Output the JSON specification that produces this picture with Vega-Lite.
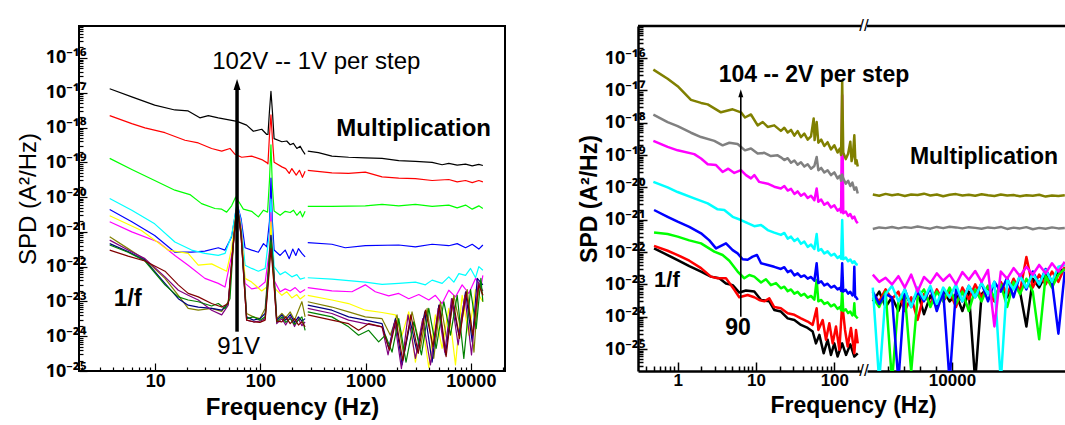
{
"$schema":"https://vega.github.io/schema/vega-lite/v6.json",
"background":"white",
"padding":{"left":15,"top":2,"right":0,"bottom":0},
"config":{"view":{"stroke":null},"font":"Liberation Sans","axis":{"labelColor":"black","titleColor":"black","tickColor":"black","domainColor":"black","grid":false,"labelOverlap":false,"labelFlush":false,"labelFont":"Liberation Sans","titleFont":"Liberation Sans"}},
"resolve":{"scale":{"color":"independent"}},
"datasets":{
"L":[
{"s":"102V","g":1,"f":3.7,"v":1.3e-17},{"s":"102V","g":1,"f":6,"v":7.6e-18},{"s":"102V","g":1,"f":9.9,"v":4.4e-18},{"s":"102V","g":1,"f":15.4,"v":3.2e-18},{"s":"102V","g":1,"f":20.6,"v":3e-18},{"s":"102V","g":1,"f":26.6,"v":1.9e-18},{"s":"102V","g":1,"f":32,"v":2.2e-18},{"s":"102V","g":1,"f":39.8,"v":1.9e-18},{"s":"102V","g":1,"f":53.3,"v":1.6e-18},{"s":"102V","g":1,"f":60,"v":1.5e-18},{"s":"102V","g":1,"f":74,"v":1.17e-18},{"s":"102V","g":1,"f":85.7,"v":7.8e-19},{"s":"102V","g":1,"f":103,"v":8.9e-19},{"s":"102V","g":1,"f":115,"v":6.3e-19},{"s":"102V","g":1,"f":118,"v":6.3e-19},{"s":"102V","g":1,"f":122,"v":3e-18},{"s":"102V","g":1,"f":126,"v":1.1e-17},{"s":"102V","g":1,"f":130,"v":3e-18},{"s":"102V","g":1,"f":135,"v":4.8e-19},{"s":"102V","g":1,"f":160,"v":3.9e-19},{"s":"102V","g":1,"f":178,"v":4.1e-19},{"s":"102V","g":1,"f":192,"v":3.2e-19},{"s":"102V","g":1,"f":206,"v":3.5e-19},{"s":"102V","g":1,"f":222,"v":2.5e-19},{"s":"102V","g":1,"f":239,"v":2.9e-19},{"s":"102V","g":1,"f":251,"v":2.2e-19},{"s":"102V","g":1,"f":266,"v":1.7e-19},
{"s":"102V","g":2,"f":282,"v":2.1e-19},{"s":"102V","g":2,"f":356,"v":1.9e-19},{"s":"102V","g":2,"f":478,"v":1.5e-19},{"s":"102V","g":2,"f":689,"v":1.4e-19},{"s":"102V","g":2,"f":993,"v":1.35e-19},{"s":"102V","g":2,"f":1432,"v":1.3e-19},{"s":"102V","g":2,"f":2063,"v":1.12e-19},{"s":"102V","g":2,"f":2972,"v":1.07e-19},{"s":"102V","g":2,"f":4283,"v":1e-19},{"s":"102V","g":2,"f":5333,"v":8.5e-20},{"s":"102V","g":2,"f":6166,"v":9.3e-20},{"s":"102V","g":2,"f":7413,"v":8.3e-20},{"s":"102V","g":2,"f":8900,"v":8.9e-20},{"s":"102V","g":2,"f":10300,"v":7.9e-20},{"s":"102V","g":2,"f":11900,"v":8.7e-20},{"s":"102V","g":2,"f":13000,"v":8.1e-20},
{"s":"101V","g":1,"f":3.7,"v":2.2e-18},{"s":"101V","g":1,"f":6,"v":1.3e-18},{"s":"101V","g":1,"f":8,"v":9.8e-19},{"s":"101V","g":1,"f":12.4,"v":7.1e-19},{"s":"101V","g":1,"f":19.2,"v":4.3e-19},{"s":"101V","g":1,"f":25.7,"v":3.6e-19},{"s":"101V","g":1,"f":34.4,"v":2.5e-19},{"s":"101V","g":1,"f":42.9,"v":2.1e-19},{"s":"101V","g":1,"f":51.4,"v":2.5e-19},{"s":"101V","g":1,"f":57.4,"v":1.7e-19},{"s":"101V","g":1,"f":66.4,"v":1.4e-19},{"s":"101V","g":1,"f":82.6,"v":1.5e-19},{"s":"101V","g":1,"f":103,"v":1.2e-19},{"s":"101V","g":1,"f":115,"v":9.8e-20},{"s":"101V","g":1,"f":118,"v":9e-20},{"s":"101V","g":1,"f":122,"v":6e-19},{"s":"101V","g":1,"f":126,"v":2.3e-18},{"s":"101V","g":1,"f":130,"v":5e-19},{"s":"101V","g":1,"f":135,"v":1e-19},{"s":"101V","g":1,"f":160,"v":7.4e-20},{"s":"101V","g":1,"f":174,"v":6.6e-20},{"s":"101V","g":1,"f":188,"v":4.8e-20},{"s":"101V","g":1,"f":199,"v":6.6e-20},{"s":"101V","g":1,"f":219,"v":4.3e-20},{"s":"101V","g":1,"f":235,"v":5.9e-20},{"s":"101V","g":1,"f":251,"v":3.7e-20},{"s":"101V","g":1,"f":266,"v":5.5e-20},
{"s":"101V","g":2,"f":282,"v":5.9e-20},{"s":"101V","g":2,"f":478,"v":5e-20},{"s":"101V","g":2,"f":689,"v":4.8e-20},{"s":"101V","g":2,"f":993,"v":5.2e-20},{"s":"101V","g":2,"f":1432,"v":3.8e-20},{"s":"101V","g":2,"f":2063,"v":3.5e-20},{"s":"101V","g":2,"f":2972,"v":3.4e-20},{"s":"101V","g":2,"f":4283,"v":3e-20},{"s":"101V","g":2,"f":6166,"v":3.2e-20},{"s":"101V","g":2,"f":7413,"v":2.75e-20},{"s":"101V","g":2,"f":8900,"v":3e-20},{"s":"101V","g":2,"f":10300,"v":2.6e-20},{"s":"101V","g":2,"f":11900,"v":3e-20},{"s":"101V","g":2,"f":13000,"v":2.75e-20},
{"s":"100V","g":1,"f":3.7,"v":1.3e-19},{"s":"100V","g":1,"f":6,"v":6.2e-20},{"s":"100V","g":1,"f":9.9,"v":3e-20},{"s":"100V","g":1,"f":15.4,"v":1.58e-20},{"s":"100V","g":1,"f":21.4,"v":1.18e-20},{"s":"100V","g":1,"f":27.6,"v":6.5e-21},{"s":"100V","g":1,"f":37,"v":4.7e-21},{"s":"100V","g":1,"f":42.9,"v":4.5e-21},{"s":"100V","g":1,"f":47.8,"v":3.7e-21},{"s":"100V","g":1,"f":53.3,"v":5.6e-21},{"s":"100V","g":1,"f":58.2,"v":1e-20},{"s":"100V","g":1,"f":62.6,"v":7.2e-21},{"s":"100V","g":1,"f":68.9,"v":4.5e-21},{"s":"100V","g":1,"f":82.6,"v":3.9e-21},{"s":"100V","g":1,"f":95.7,"v":2.7e-21},{"s":"100V","g":1,"f":107,"v":4.2e-21},{"s":"100V","g":1,"f":117,"v":3.7e-21},{"s":"100V","g":1,"f":122,"v":3e-20},{"s":"100V","g":1,"f":126,"v":3.2e-19},{"s":"100V","g":1,"f":130,"v":2e-20},{"s":"100V","g":1,"f":135,"v":4e-21},{"s":"100V","g":1,"f":154,"v":3e-21},{"s":"100V","g":1,"f":172,"v":3.9e-21},{"s":"100V","g":1,"f":192,"v":3.6e-21},{"s":"100V","g":1,"f":206,"v":4.2e-21},{"s":"100V","g":1,"f":222,"v":3e-21},{"s":"100V","g":1,"f":239,"v":3.9e-21},{"s":"100V","g":1,"f":251,"v":2.7e-21},{"s":"100V","g":1,"f":266,"v":3.9e-21},
{"s":"100V","g":2,"f":282,"v":5.4e-21},{"s":"100V","g":2,"f":478,"v":5.4e-21},{"s":"100V","g":2,"f":993,"v":5.6e-21},{"s":"100V","g":2,"f":1432,"v":6.2e-21},{"s":"100V","g":2,"f":2063,"v":5.6e-21},{"s":"100V","g":2,"f":2972,"v":6.2e-21},{"s":"100V","g":2,"f":4283,"v":5.4e-21},{"s":"100V","g":2,"f":6166,"v":5.9e-21},{"s":"100V","g":2,"f":7413,"v":4.9e-21},{"s":"100V","g":2,"f":8900,"v":5.9e-21},{"s":"100V","g":2,"f":10300,"v":4.5e-21},{"s":"100V","g":2,"f":11900,"v":5.6e-21},{"s":"100V","g":2,"f":13000,"v":4.7e-21},
{"s":"99V","g":1,"f":3.7,"v":4.4e-21},{"s":"99V","g":1,"f":6,"v":1.95e-21},{"s":"99V","g":1,"f":9.9,"v":7.9e-22},{"s":"99V","g":1,"f":15.4,"v":2.6e-22},{"s":"99V","g":1,"f":22.2,"v":2.6e-22},{"s":"99V","g":1,"f":29.7,"v":2.8e-22},{"s":"99V","g":1,"f":39.8,"v":3.5e-22},{"s":"99V","g":1,"f":46.1,"v":3e-22},{"s":"99V","g":1,"f":53.3,"v":7.2e-22},{"s":"99V","g":1,"f":60,"v":6.5e-21},{"s":"99V","g":1,"f":65.5,"v":2.4e-21},{"s":"99V","g":1,"f":71.5,"v":3.5e-22},{"s":"99V","g":1,"f":82.6,"v":3e-22},{"s":"99V","g":1,"f":95.7,"v":2.6e-22},{"s":"99V","g":1,"f":107,"v":4.6e-22},{"s":"99V","g":1,"f":115,"v":3.7e-22},{"s":"99V","g":1,"f":122,"v":2e-21},{"s":"99V","g":1,"f":126,"v":3.5e-20},{"s":"99V","g":1,"f":130,"v":2e-21},{"s":"99V","g":1,"f":135,"v":3e-22},{"s":"99V","g":1,"f":154,"v":2.1e-22},{"s":"99V","g":1,"f":172,"v":3e-22},{"s":"99V","g":1,"f":188,"v":1.7e-22},{"s":"99V","g":1,"f":203,"v":3.2e-22},{"s":"99V","g":1,"f":217,"v":2.1e-22},{"s":"99V","g":1,"f":230,"v":3.3e-22},{"s":"99V","g":1,"f":248,"v":2.4e-22},{"s":"99V","g":1,"f":266,"v":1.9e-22},
{"s":"99V","g":2,"f":282,"v":4.9e-22},{"s":"99V","g":2,"f":478,"v":4.4e-22},{"s":"99V","g":2,"f":640,"v":3.5e-22},{"s":"99V","g":2,"f":993,"v":4e-22},{"s":"99V","g":2,"f":2063,"v":4.2e-22},{"s":"99V","g":2,"f":2972,"v":3.7e-22},{"s":"99V","g":2,"f":4283,"v":4.4e-22},{"s":"99V","g":2,"f":6166,"v":4e-22},{"s":"99V","g":2,"f":7413,"v":4.6e-22},{"s":"99V","g":2,"f":8900,"v":3.5e-22},{"s":"99V","g":2,"f":10300,"v":4.4e-22},{"s":"99V","g":2,"f":11900,"v":3.2e-22},{"s":"99V","g":2,"f":13000,"v":4.2e-22},
{"s":"98V","g":1,"f":3.7,"v":9.1e-21},{"s":"98V","g":1,"f":6,"v":4.2e-21},{"s":"98V","g":1,"f":9.9,"v":1.7e-21},{"s":"98V","g":1,"f":15.4,"v":5.1e-22},{"s":"98V","g":1,"f":22.2,"v":3e-22},{"s":"98V","g":1,"f":29.7,"v":2.4e-22},{"s":"98V","g":1,"f":39.8,"v":2.1e-22},{"s":"98V","g":1,"f":46.1,"v":2.4e-22},{"s":"98V","g":1,"f":53.3,"v":8e-22},{"s":"98V","g":1,"f":60,"v":6.5e-21},{"s":"98V","g":1,"f":65.5,"v":1.95e-21},{"s":"98V","g":1,"f":71.5,"v":1.1e-22},{"s":"98V","g":1,"f":82.6,"v":8.9e-23},{"s":"98V","g":1,"f":95.7,"v":7.4e-23},{"s":"98V","g":1,"f":111,"v":8.9e-23},{"s":"98V","g":1,"f":122,"v":1e-21},{"s":"98V","g":1,"f":126,"v":8.7e-21},{"s":"98V","g":1,"f":130,"v":8e-22},{"s":"98V","g":1,"f":135,"v":1e-22},{"s":"98V","g":1,"f":154,"v":5.9e-23},{"s":"98V","g":1,"f":172,"v":7.1e-23},{"s":"98V","g":1,"f":199,"v":5.1e-23},{"s":"98V","g":1,"f":222,"v":5.9e-23},{"s":"98V","g":1,"f":239,"v":4.4e-23},{"s":"98V","g":1,"f":266,"v":4.8e-23},
{"s":"98V","g":2,"f":282,"v":4.8e-23},{"s":"98V","g":2,"f":478,"v":4.4e-23},{"s":"98V","g":2,"f":993,"v":3.6e-23},{"s":"98V","g":2,"f":1432,"v":3.1e-23},{"s":"98V","g":2,"f":2063,"v":3.3e-23},{"s":"98V","g":2,"f":2972,"v":3.6e-23},{"s":"98V","g":2,"f":3700,"v":3e-23},{"s":"98V","g":2,"f":4283,"v":4.1e-23},{"s":"98V","g":2,"f":5333,"v":3.3e-23},{"s":"98V","g":2,"f":6166,"v":5.1e-23},{"s":"98V","g":2,"f":6890,"v":3.6e-23},{"s":"98V","g":2,"f":7690,"v":6.3e-23},{"s":"98V","g":2,"f":8900,"v":5.6e-23},{"s":"98V","g":2,"f":9930,"v":8.9e-23},{"s":"98V","g":2,"f":11070,"v":4.8e-23},{"s":"98V","g":2,"f":11900,"v":1e-22},{"s":"98V","g":2,"f":13000,"v":7.9e-23},
{"s":"97V","g":1,"f":3.7,"v":1.95e-21},{"s":"97V","g":1,"f":6,"v":1e-21},{"s":"97V","g":1,"f":10.7,"v":5.1e-22},{"s":"97V","g":1,"f":15.4,"v":2.1e-22},{"s":"97V","g":1,"f":20.6,"v":1.1e-22},{"s":"97V","g":1,"f":29.7,"v":4.6e-23},{"s":"97V","g":1,"f":39.8,"v":3.3e-23},{"s":"97V","g":1,"f":46.1,"v":2.6e-23},{"s":"97V","g":1,"f":53.3,"v":2.1e-22},{"s":"97V","g":1,"f":60,"v":6e-21},{"s":"97V","g":1,"f":65.5,"v":1.55e-21},{"s":"97V","g":1,"f":71.5,"v":3.3e-23},{"s":"97V","g":1,"f":82.6,"v":2.3e-23},{"s":"97V","g":1,"f":95.7,"v":2.5e-23},{"s":"97V","g":1,"f":111,"v":3.6e-23},{"s":"97V","g":1,"f":122,"v":3e-22},{"s":"97V","g":1,"f":126,"v":3.6e-21},{"s":"97V","g":1,"f":130,"v":2e-22},{"s":"97V","g":1,"f":135,"v":4e-23},{"s":"97V","g":1,"f":154,"v":1.9e-23},{"s":"97V","g":1,"f":172,"v":2.3e-23},{"s":"97V","g":1,"f":192,"v":2e-23},{"s":"97V","g":1,"f":214,"v":2.5e-23},{"s":"97V","g":1,"f":239,"v":1.8e-23},{"s":"97V","g":1,"f":266,"v":2.2e-23},
{"s":"97V","g":2,"f":282,"v":2.5e-23},{"s":"97V","g":2,"f":478,"v":2e-23},{"s":"97V","g":2,"f":741,"v":1.9e-23},{"s":"97V","g":2,"f":993,"v":3e-23},{"s":"97V","g":2,"f":1236,"v":1.9e-23},{"s":"97V","g":2,"f":1656,"v":1.45e-23},{"s":"97V","g":2,"f":2063,"v":1.7e-23},{"s":"97V","g":2,"f":2570,"v":1.2e-23},{"s":"97V","g":2,"f":3200,"v":1.58e-23},{"s":"97V","g":2,"f":3980,"v":1.1e-23},{"s":"97V","g":2,"f":4600,"v":1.5e-23},{"s":"97V","g":2,"f":5333,"v":8.7e-24},{"s":"97V","g":2,"f":6166,"v":2.1e-23},{"s":"97V","g":2,"f":7140,"v":1.35e-23},{"s":"97V","g":2,"f":8260,"v":3e-23},{"s":"97V","g":2,"f":9550,"v":1.7e-23},{"s":"97V","g":2,"f":11070,"v":4.6e-23},{"s":"97V","g":2,"f":12450,"v":2.6e-23},{"s":"97V","g":2,"f":13000,"v":5.6e-23},
{"s":"96V","g":1,"f":3.7,"v":2.9e-21},{"s":"96V","g":1,"f":7.41,"v":1.1e-21},{"s":"96V","g":1,"f":13.3,"v":3e-22},{"s":"96V","g":1,"f":20.6,"v":2.4e-22},{"s":"96V","g":1,"f":25.7,"v":1.1e-22},{"s":"96V","g":1,"f":34.4,"v":1.2e-22},{"s":"96V","g":1,"f":47.8,"v":7.4e-23},{"s":"96V","g":1,"f":53.3,"v":3.3e-22},{"s":"96V","g":1,"f":60,"v":6e-21},{"s":"96V","g":1,"f":65.5,"v":1.26e-21},{"s":"96V","g":1,"f":71.5,"v":4.6e-23},{"s":"96V","g":1,"f":82.6,"v":3.6e-23},{"s":"96V","g":1,"f":103,"v":2e-23},{"s":"96V","g":1,"f":115,"v":2.6e-23},{"s":"96V","g":1,"f":122,"v":2e-22},{"s":"96V","g":1,"f":126,"v":1.95e-21},{"s":"96V","g":1,"f":130,"v":1.5e-22},{"s":"96V","g":1,"f":135,"v":2.5e-23},{"s":"96V","g":1,"f":160,"v":1.5e-23},{"s":"96V","g":1,"f":178,"v":1.9e-23},{"s":"96V","g":1,"f":199,"v":1.26e-23},{"s":"96V","g":1,"f":222,"v":1.58e-23},{"s":"96V","g":1,"f":239,"v":1.17e-23},{"s":"96V","g":1,"f":266,"v":1.5e-23},
{"s":"96V","g":2,"f":282,"v":1.5e-23},{"s":"96V","g":2,"f":478,"v":1.1e-23},{"s":"96V","g":2,"f":689,"v":8.7e-24},{"s":"96V","g":2,"f":993,"v":5.6e-24},{"s":"96V","g":2,"f":1432,"v":4.8e-24},{"s":"96V","g":2,"f":1918,"v":4.1e-24},{"s":"96V","g":2,"f":2220,"v":1.07e-24},{"s":"96V","g":2,"f":2570,"v":5e-24},{"s":"96V","g":2,"f":2972,"v":1.8e-25},{"s":"96V","g":2,"f":3440,"v":2.6e-24},{"s":"96V","g":2,"f":3980,"v":1.26e-25},{"s":"96V","g":2,"f":4600,"v":4.1e-24},{"s":"96V","g":2,"f":5333,"v":4.5e-25},{"s":"96V","g":2,"f":6166,"v":6.3e-24},{"s":"96V","g":2,"f":7140,"v":1.5e-25},{"s":"96V","g":2,"f":8260,"v":1.5e-23},{"s":"96V","g":2,"f":9550,"v":1.07e-24},{"s":"96V","g":2,"f":11070,"v":2.2e-23},{"s":"96V","g":2,"f":13000,"v":9.8e-24},
{"s":"95V","g":1,"f":3.7,"v":7.2e-22},{"s":"95V","g":1,"f":5.53,"v":3.3e-22},{"s":"95V","g":1,"f":8,"v":1.6e-22},{"s":"95V","g":1,"f":12.4,"v":4.6e-23},{"s":"95V","g":1,"f":16.6,"v":1.5e-23},{"s":"95V","g":1,"f":20.6,"v":6.3e-24},{"s":"95V","g":1,"f":25.7,"v":5.6e-24},{"s":"95V","g":1,"f":34.4,"v":6.3e-24},{"s":"95V","g":1,"f":42.9,"v":5.2e-24},{"s":"95V","g":1,"f":49.5,"v":9.8e-24},{"s":"95V","g":1,"f":55.4,"v":5.1e-22},{"s":"95V","g":1,"f":60,"v":6.5e-21},{"s":"95V","g":1,"f":65.5,"v":1e-21},{"s":"95V","g":1,"f":74,"v":4.5e-24},{"s":"95V","g":1,"f":85.7,"v":3.6e-24},{"s":"95V","g":1,"f":99,"v":3.2e-24},{"s":"95V","g":1,"f":111,"v":6.3e-24},{"s":"95V","g":1,"f":119,"v":8.9e-23},{"s":"95V","g":1,"f":126,"v":7.9e-22},{"s":"95V","g":1,"f":134,"v":8.9e-23},{"s":"95V","g":1,"f":143,"v":3.2e-24},{"s":"95V","g":1,"f":160,"v":4.5e-24},{"s":"95V","g":1,"f":174,"v":3.4e-24},{"s":"95V","g":1,"f":192,"v":5e-24},{"s":"95V","g":1,"f":211,"v":2.9e-24},{"s":"95V","g":1,"f":230,"v":5.6e-24},{"s":"95V","g":1,"f":248,"v":9.8e-24},{"s":"95V","g":1,"f":266,"v":3.6e-24},
{"s":"95V","g":2,"f":282,"v":9.8e-24},{"s":"95V","g":2,"f":478,"v":6.9e-24},{"s":"95V","g":2,"f":689,"v":5e-24},{"s":"95V","g":2,"f":993,"v":3.6e-24},{"s":"95V","g":2,"f":1432,"v":3.2e-24},{"s":"95V","g":2,"f":1718,"v":1.07e-24},{"s":"95V","g":2,"f":1987,"v":4.1e-24},{"s":"95V","g":2,"f":2300,"v":2.9e-25},{"s":"95V","g":2,"f":2760,"v":5e-24},{"s":"95V","g":2,"f":3320,"v":4.5e-25},{"s":"95V","g":2,"f":3840,"v":6.3e-24},{"s":"95V","g":2,"f":4440,"v":2.3e-25},{"s":"95V","g":2,"f":5140,"v":9.8e-24},{"s":"95V","g":2,"f":5950,"v":6.9e-25},{"s":"95V","g":2,"f":6890,"v":1.5e-23},{"s":"95V","g":2,"f":7980,"v":1.66e-24},{"s":"95V","g":2,"f":9230,"v":2.2e-23},{"s":"95V","g":2,"f":10700,"v":3.5e-25},{"s":"95V","g":2,"f":11900,"v":3.6e-23},{"s":"95V","g":2,"f":13000,"v":1.5e-23},
{"s":"94V","g":1,"f":3.7,"v":4.6e-22},{"s":"94V","g":1,"f":5.53,"v":2.7e-22},{"s":"94V","g":1,"f":8,"v":1.55e-22},{"s":"94V","g":1,"f":12.4,"v":3.3e-23},{"s":"94V","g":1,"f":16.6,"v":1.2e-23},{"s":"94V","g":1,"f":20.6,"v":7.8e-24},{"s":"94V","g":1,"f":25.7,"v":6.9e-24},{"s":"94V","g":1,"f":34.4,"v":6.3e-24},{"s":"94V","g":1,"f":42.9,"v":5.6e-24},{"s":"94V","g":1,"f":49.5,"v":8.7e-24},{"s":"94V","g":1,"f":55.4,"v":5.1e-22},{"s":"94V","g":1,"f":60,"v":6.5e-21},{"s":"94V","g":1,"f":65.5,"v":1e-21},{"s":"94V","g":1,"f":74,"v":3.6e-24},{"s":"94V","g":1,"f":85.7,"v":2.9e-24},{"s":"94V","g":1,"f":99,"v":3.2e-24},{"s":"94V","g":1,"f":111,"v":4.5e-24},{"s":"94V","g":1,"f":119,"v":7.1e-23},{"s":"94V","g":1,"f":126,"v":7.9e-22},{"s":"94V","g":1,"f":134,"v":7.1e-23},{"s":"94V","g":1,"f":143,"v":2.9e-24},{"s":"94V","g":1,"f":160,"v":4.1e-24},{"s":"94V","g":1,"f":174,"v":2.9e-24},{"s":"94V","g":1,"f":192,"v":4.2e-24},{"s":"94V","g":1,"f":211,"v":2.5e-24},{"s":"94V","g":1,"f":230,"v":3.6e-24},{"s":"94V","g":1,"f":248,"v":2.7e-24},{"s":"94V","g":1,"f":266,"v":3.2e-24},
{"s":"94V","g":2,"f":282,"v":7.8e-24},{"s":"94V","g":2,"f":478,"v":5.6e-24},{"s":"94V","g":2,"f":689,"v":3.6e-24},{"s":"94V","g":2,"f":993,"v":2.9e-24},{"s":"94V","g":2,"f":1432,"v":2.3e-24},{"s":"94V","g":2,"f":1656,"v":4.5e-25},{"s":"94V","g":2,"f":1918,"v":3.2e-24},{"s":"94V","g":2,"f":2220,"v":1.5e-25},{"s":"94V","g":2,"f":2660,"v":2.6e-24},{"s":"94V","g":2,"f":3080,"v":3.5e-25},{"s":"94V","g":2,"f":3650,"v":5e-24},{"s":"94V","g":2,"f":4283,"v":1.8e-25},{"s":"94V","g":2,"f":4960,"v":7.8e-24},{"s":"94V","g":2,"f":5740,"v":2.9e-25},{"s":"94V","g":2,"f":6640,"v":9.8e-24},{"s":"94V","g":2,"f":7690,"v":1.07e-24},{"s":"94V","g":2,"f":8900,"v":1.9e-23},{"s":"94V","g":2,"f":10300,"v":6.9e-25},{"s":"94V","g":2,"f":11500,"v":4.6e-23},{"s":"94V","g":2,"f":13000,"v":3e-23},
{"s":"93V","g":1,"f":3.7,"v":5.8e-22},{"s":"93V","g":1,"f":5.53,"v":3e-22},{"s":"93V","g":1,"f":8,"v":1.7e-22},{"s":"93V","g":1,"f":12.4,"v":5.1e-23},{"s":"93V","g":1,"f":16.6,"v":2.1e-23},{"s":"93V","g":1,"f":20.6,"v":1.5e-23},{"s":"93V","g":1,"f":25.7,"v":1.1e-23},{"s":"93V","g":1,"f":34.4,"v":5.6e-24},{"s":"93V","g":1,"f":42.9,"v":4.1e-24},{"s":"93V","g":1,"f":49.5,"v":7.8e-24},{"s":"93V","g":1,"f":55.4,"v":4.2e-22},{"s":"93V","g":1,"f":60,"v":6e-21},{"s":"93V","g":1,"f":65.5,"v":7.9e-22},{"s":"93V","g":1,"f":74,"v":2.9e-24},{"s":"93V","g":1,"f":85.7,"v":2.6e-24},{"s":"93V","g":1,"f":99,"v":2.7e-24},{"s":"93V","g":1,"f":111,"v":3.2e-24},{"s":"93V","g":1,"f":119,"v":4.6e-23},{"s":"93V","g":1,"f":126,"v":5.1e-22},{"s":"93V","g":1,"f":134,"v":4.6e-23},{"s":"93V","g":1,"f":143,"v":2.3e-24},{"s":"93V","g":1,"f":160,"v":3.2e-24},{"s":"93V","g":1,"f":174,"v":2.1e-24},{"s":"93V","g":1,"f":192,"v":3.6e-24},{"s":"93V","g":1,"f":211,"v":1.9e-24},{"s":"93V","g":1,"f":230,"v":3.2e-24},{"s":"93V","g":1,"f":248,"v":2e-24},{"s":"93V","g":1,"f":266,"v":2.6e-24},
{"s":"93V","g":2,"f":282,"v":6.3e-24},{"s":"93V","g":2,"f":478,"v":4.5e-24},{"s":"93V","g":2,"f":689,"v":2.9e-24},{"s":"93V","g":2,"f":993,"v":2.3e-24},{"s":"93V","g":2,"f":1432,"v":1.86e-24},{"s":"93V","g":2,"f":1633,"v":2.9e-25},{"s":"93V","g":2,"f":1888,"v":2.6e-24},{"s":"93V","g":2,"f":2188,"v":1.17e-25},{"s":"93V","g":2,"f":2530,"v":4.1e-24},{"s":"93V","g":2,"f":2972,"v":2.3e-25},{"s":"93V","g":2,"f":3490,"v":3.2e-24},{"s":"93V","g":2,"f":4130,"v":1.5e-25},{"s":"93V","g":2,"f":4890,"v":6.3e-24},{"s":"93V","g":2,"f":5650,"v":3.5e-25},{"s":"93V","g":2,"f":6550,"v":1.2e-23},{"s":"93V","g":2,"f":7570,"v":5.6e-25},{"s":"93V","g":2,"f":8770,"v":1.5e-23},{"s":"93V","g":2,"f":10140,"v":2.9e-25},{"s":"93V","g":2,"f":11750,"v":3.6e-23},{"s":"93V","g":2,"f":13000,"v":2e-23},
{"s":"92V","g":1,"f":3.7,"v":4.2e-22},{"s":"92V","g":1,"f":5.53,"v":2.6e-22},{"s":"92V","g":1,"f":8,"v":1.45e-22},{"s":"92V","g":1,"f":12.4,"v":3e-23},{"s":"92V","g":1,"f":16.6,"v":1.35e-23},{"s":"92V","g":1,"f":20.6,"v":1.1e-23},{"s":"92V","g":1,"f":25.7,"v":9.8e-24},{"s":"92V","g":1,"f":34.4,"v":7.4e-24},{"s":"92V","g":1,"f":39.8,"v":8.7e-24},{"s":"92V","g":1,"f":46.1,"v":6.3e-24},{"s":"92V","g":1,"f":51.4,"v":1.2e-23},{"s":"92V","g":1,"f":55.4,"v":4.6e-22},{"s":"92V","g":1,"f":60,"v":6.3e-21},{"s":"92V","g":1,"f":65.5,"v":9e-22},{"s":"92V","g":1,"f":74,"v":3.2e-24},{"s":"92V","g":1,"f":85.7,"v":3.6e-24},{"s":"92V","g":1,"f":99,"v":2.9e-24},{"s":"92V","g":1,"f":111,"v":3.6e-24},{"s":"92V","g":1,"f":119,"v":5.6e-23},{"s":"92V","g":1,"f":126,"v":5.8e-22},{"s":"92V","g":1,"f":134,"v":5.6e-23},{"s":"92V","g":1,"f":143,"v":2.6e-24},{"s":"92V","g":1,"f":160,"v":3.6e-24},{"s":"92V","g":1,"f":174,"v":2.5e-24},{"s":"92V","g":1,"f":192,"v":3.2e-24},{"s":"92V","g":1,"f":211,"v":2.2e-24},{"s":"92V","g":1,"f":230,"v":2.9e-24},{"s":"92V","g":1,"f":248,"v":3.6e-24},{"s":"92V","g":1,"f":266,"v":1.48e-24},
{"s":"92V","g":2,"f":282,"v":5e-24},{"s":"92V","g":2,"f":478,"v":3.6e-24},{"s":"92V","g":2,"f":689,"v":1.86e-24},{"s":"92V","g":2,"f":857,"v":1.07e-24},{"s":"92V","g":2,"f":1069,"v":1.48e-24},{"s":"92V","g":2,"f":1330,"v":6.9e-25},{"s":"92V","g":2,"f":1540,"v":1.07e-24},{"s":"92V","g":2,"f":1782,"v":3.5e-25},{"s":"92V","g":2,"f":2063,"v":3.2e-24},{"s":"92V","g":2,"f":2420,"v":1.8e-25},{"s":"92V","g":2,"f":2870,"v":2.6e-24},{"s":"92V","g":2,"f":3390,"v":2.9e-25},{"s":"92V","g":2,"f":3980,"v":6.3e-24},{"s":"92V","g":2,"f":4680,"v":4.5e-25},{"s":"92V","g":2,"f":5530,"v":9.8e-24},{"s":"92V","g":2,"f":6400,"v":1.07e-24},{"s":"92V","g":2,"f":7413,"v":1.5e-23},{"s":"92V","g":2,"f":8570,"v":2.3e-25},{"s":"92V","g":2,"f":9930,"v":2.2e-23},{"s":"92V","g":2,"f":11240,"v":1.66e-24},{"s":"92V","g":2,"f":12450,"v":4.6e-23},{"s":"92V","g":2,"f":13000,"v":9.8e-24},
{"s":"91V","g":1,"f":3.7,"v":3e-22},{"s":"91V","g":1,"f":5.53,"v":2e-22},{"s":"91V","g":1,"f":8,"v":1.45e-22},{"s":"91V","g":1,"f":12.4,"v":7.4e-23},{"s":"91V","g":1,"f":16.6,"v":3e-23},{"s":"91V","g":1,"f":20.6,"v":1.7e-23},{"s":"91V","g":1,"f":25.7,"v":1.35e-23},{"s":"91V","g":1,"f":34.4,"v":8.7e-24},{"s":"91V","g":1,"f":42.9,"v":6.9e-24},{"s":"91V","g":1,"f":49.5,"v":8.7e-24},{"s":"91V","g":1,"f":55.4,"v":4.6e-22},{"s":"91V","g":1,"f":60,"v":6e-21},{"s":"91V","g":1,"f":65.5,"v":7.9e-22},{"s":"91V","g":1,"f":74,"v":2.9e-24},{"s":"91V","g":1,"f":85.7,"v":2.6e-24},{"s":"91V","g":1,"f":99,"v":2.5e-24},{"s":"91V","g":1,"f":111,"v":2.9e-24},{"s":"91V","g":1,"f":119,"v":3.6e-23},{"s":"91V","g":1,"f":126,"v":3.3e-22},{"s":"91V","g":1,"f":134,"v":3.6e-23},{"s":"91V","g":1,"f":143,"v":2.7e-24},{"s":"91V","g":1,"f":160,"v":2.6e-24},{"s":"91V","g":1,"f":174,"v":3.6e-24},{"s":"91V","g":1,"f":192,"v":2.3e-24},{"s":"91V","g":1,"f":211,"v":3.2e-24},{"s":"91V","g":1,"f":230,"v":2.1e-24},{"s":"91V","g":1,"f":248,"v":2.6e-24},{"s":"91V","g":1,"f":266,"v":1.86e-24},
{"s":"91V","g":2,"f":282,"v":4.1e-24},{"s":"91V","g":2,"f":478,"v":2.9e-24},{"s":"91V","g":2,"f":689,"v":2.3e-24},{"s":"91V","g":2,"f":857,"v":1.48e-24},{"s":"91V","g":2,"f":1069,"v":2.3e-24},{"s":"91V","g":2,"f":1432,"v":1.86e-24},{"s":"91V","g":2,"f":1680,"v":4e-25},{"s":"91V","g":2,"f":1945,"v":2.9e-24},{"s":"91V","g":2,"f":2250,"v":2e-25},{"s":"91V","g":2,"f":2690,"v":4.1e-24},{"s":"91V","g":2,"f":3160,"v":3.2e-25},{"s":"91V","g":2,"f":3700,"v":5.6e-24},{"s":"91V","g":2,"f":4380,"v":5e-25},{"s":"91V","g":2,"f":5030,"v":7.8e-24},{"s":"91V","g":2,"f":5820,"v":2.6e-25},{"s":"91V","g":2,"f":6740,"v":1.2e-23},{"s":"91V","g":2,"f":7800,"v":8.7e-25},{"s":"91V","g":2,"f":9030,"v":1.9e-23},{"s":"91V","g":2,"f":10450,"v":1.07e-24},{"s":"91V","g":2,"f":11900,"v":3e-23},{"s":"91V","g":2,"f":13000,"v":1.5e-23}
],
"R1":[
{"s":"90V","f":0.5,"v":1.3e-22},{"s":"90V","f":0.745,"v":8.1e-23},{"s":"90V","f":1,"v":5.6e-23},{"s":"90V","f":1.41,"v":3.7e-23},{"s":"90V","f":1.99,"v":2.5e-23},{"s":"90V","f":2.66,"v":1.74e-23},{"s":"90V","f":3.4,"v":1.55e-23},{"s":"90V","f":4.14,"v":1.07e-23},{"s":"90V","f":5.04,"v":9.5e-24},{"s":"90V","f":6.12,"v":5.6e-24},{"s":"90V","f":7.45,"v":6.5e-24},{"s":"90V","f":9.52,"v":6e-24},{"s":"90V","f":11.6,"v":3.3e-24},{"s":"90V","f":14.8,"v":3e-24},{"s":"90V","f":17.1,"v":1.62e-24},{"s":"90V","f":20.8,"v":1.45e-24},{"s":"90V","f":25.4,"v":8.9e-25},{"s":"90V","f":30.9,"v":7.9e-25},{"s":"90V","f":37.5,"v":5.6e-25},{"s":"90V","f":45.7,"v":4.5e-25},{"s":"90V","f":52.9,"v":3.5e-25},{"s":"90V","f":58.3,"v":1.5e-25},{"s":"90V","f":64.4,"v":2.75e-25},{"s":"90V","f":73.1,"v":7.4e-26},{"s":"90V","f":82.2,"v":1.95e-25},{"s":"90V","f":90.6,"v":6.6e-26},{"s":"90V","f":100,"v":1.5e-25},{"s":"90V","f":110,"v":5.9e-26},{"s":"90V","f":126,"v":1.5e-25},{"s":"90V","f":141,"v":6.6e-26},{"s":"90V","f":160,"v":1.4e-25},{"s":"90V","f":180,"v":5.9e-26},{"s":"90V","f":199,"v":7.4e-26},
{"s":"92V","f":0.5,"v":1.55e-22},{"s":"92V","f":0.745,"v":1.1e-22},{"s":"92V","f":1,"v":8.1e-23},{"s":"92V","f":1.41,"v":5.4e-23},{"s":"92V","f":1.99,"v":3.2e-23},{"s":"92V","f":2.66,"v":1.74e-23},{"s":"92V","f":3.24,"v":1.55e-23},{"s":"92V","f":4.14,"v":1.55e-23},{"s":"92V","f":5.29,"v":6.8e-24},{"s":"92V","f":6.12,"v":4e-24},{"s":"92V","f":7.83,"v":4.7e-24},{"s":"92V","f":9.52,"v":4e-24},{"s":"92V","f":11,"v":3.3e-24},{"s":"92V","f":12.8,"v":3e-24},{"s":"92V","f":14.8,"v":3.7e-24},{"s":"92V","f":17.1,"v":2e-24},{"s":"92V","f":20.8,"v":1.82e-24},{"s":"92V","f":25.4,"v":1.29e-24},{"s":"92V","f":30.9,"v":1.15e-24},{"s":"92V","f":37.5,"v":8.9e-25},{"s":"92V","f":45.7,"v":7.1e-25},{"s":"92V","f":52.9,"v":5.6e-25},{"s":"92V","f":59.5,"v":1.82e-24},{"s":"92V","f":62.5,"v":3.9e-25},{"s":"92V","f":71,"v":7.9e-25},{"s":"92V","f":78.3,"v":1.95e-25},{"s":"92V","f":86.3,"v":6.3e-25},{"s":"92V","f":95.2,"v":1.5e-25},{"s":"92V","f":105,"v":5e-25},{"s":"92V","f":116,"v":9.5e-26},{"s":"92V","f":126,"v":2.6e-24},{"s":"92V","f":137,"v":3.9e-25},{"s":"92V","f":148,"v":1.2e-25},{"s":"92V","f":163,"v":4.5e-25},{"s":"92V","f":180,"v":7.4e-26},{"s":"92V","f":189,"v":3.9e-25},{"s":"92V","f":199,"v":1.5e-25},
{"s":"94V","f":0.5,"v":4e-22},{"s":"94V","f":0.745,"v":3.6e-22},{"s":"94V","f":1,"v":3e-22},{"s":"94V","f":1.41,"v":2.3e-22},{"s":"94V","f":1.99,"v":1.86e-22},{"s":"94V","f":2.94,"v":1.03e-22},{"s":"94V","f":3.75,"v":8.1e-23},{"s":"94V","f":4.57,"v":5.4e-23},{"s":"94V","f":5.83,"v":2.5e-23},{"s":"94V","f":7.09,"v":1.55e-23},{"s":"94V","f":8.22,"v":1.95e-23},{"s":"94V","f":9.52,"v":1.74e-23},{"s":"94V","f":11.6,"v":1.15e-23},{"s":"94V","f":13.4,"v":1.45e-23},{"s":"94V","f":15.5,"v":9.5e-24},{"s":"94V","f":18,"v":1.1e-23},{"s":"94V","f":20.8,"v":7.6e-24},{"s":"94V","f":23,"v":8.5e-24},{"s":"94V","f":25.4,"v":6.2e-24},{"s":"94V","f":28,"v":7e-24},{"s":"94V","f":30.9,"v":5.2e-24},{"s":"94V","f":34,"v":5.9e-24},{"s":"94V","f":37.5,"v":4.5e-24},{"s":"94V","f":41.4,"v":5.1e-24},{"s":"94V","f":45.7,"v":3.9e-24},{"s":"94V","f":50.4,"v":4.4e-24},{"s":"94V","f":55.6,"v":3.4e-24},{"s":"94V","f":59.5,"v":1.38e-23},{"s":"94V","f":62.5,"v":3e-24},{"s":"94V","f":68,"v":3.3e-24},{"s":"94V","f":74.5,"v":2.5e-24},{"s":"94V","f":82,"v":2.8e-24},{"s":"94V","f":90.6,"v":2.1e-24},{"s":"94V","f":100,"v":2.4e-24},{"s":"94V","f":110,"v":1.75e-24},{"s":"94V","f":118,"v":2e-24},{"s":"94V","f":122,"v":1.6e-24},{"s":"94V","f":126,"v":6.8e-24},{"s":"94V","f":130,"v":1.5e-24},{"s":"94V","f":140,"v":1.7e-24},{"s":"94V","f":150,"v":1.3e-24},{"s":"94V","f":160,"v":1.45e-24},{"s":"94V","f":170,"v":1.1e-24},{"s":"94V","f":176,"v":1.25e-24},{"s":"94V","f":180,"v":2.6e-24},{"s":"94V","f":184,"v":1.1e-24},{"s":"94V","f":190,"v":1e-24},{"s":"94V","f":199,"v":8.9e-25},
{"s":"96V","f":0.5,"v":2e-21},{"s":"96V","f":0.745,"v":1.23e-21},{"s":"96V","f":1,"v":8.7e-22},{"s":"96V","f":1.41,"v":6e-22},{"s":"96V","f":1.99,"v":3.8e-22},{"s":"96V","f":2.54,"v":2.3e-22},{"s":"96V","f":3.09,"v":1.3e-22},{"s":"96V","f":4.14,"v":1.86e-22},{"s":"96V","f":5.04,"v":1.15e-22},{"s":"96V","f":5.83,"v":9.1e-23},{"s":"96V","f":6.76,"v":6e-23},{"s":"96V","f":7.83,"v":5.8e-23},{"s":"96V","f":9.06,"v":7.2e-23},{"s":"96V","f":10.3,"v":8.1e-23},{"s":"96V","f":11.6,"v":4.5e-23},{"s":"96V","f":14.1,"v":4e-23},{"s":"96V","f":17.1,"v":3.5e-23},{"s":"96V","f":20.8,"v":3e-23},{"s":"96V","f":23,"v":3.4e-23},{"s":"96V","f":25.4,"v":2.4e-23},{"s":"96V","f":28,"v":2.7e-23},{"s":"96V","f":30.9,"v":1.9e-23},{"s":"96V","f":34,"v":2.2e-23},{"s":"96V","f":37.5,"v":1.7e-23},{"s":"96V","f":41.4,"v":1.9e-23},{"s":"96V","f":45.7,"v":1.5e-23},{"s":"96V","f":50.4,"v":1.7e-23},{"s":"96V","f":55.6,"v":1.3e-23},{"s":"96V","f":59.5,"v":4.5e-23},{"s":"96V","f":62.5,"v":1.1e-23},{"s":"96V","f":68,"v":1.25e-23},{"s":"96V","f":74.5,"v":9.3e-24},{"s":"96V","f":82,"v":1.05e-23},{"s":"96V","f":90.6,"v":8e-24},{"s":"96V","f":100,"v":9e-24},{"s":"96V","f":110,"v":7e-24},{"s":"96V","f":118,"v":7.8e-24},{"s":"96V","f":122,"v":6.3e-24},{"s":"96V","f":126,"v":4.5e-23},{"s":"96V","f":130,"v":6e-24},{"s":"96V","f":140,"v":6.8e-24},{"s":"96V","f":150,"v":5.2e-24},{"s":"96V","f":160,"v":5.9e-24},{"s":"96V","f":170,"v":4.6e-24},{"s":"96V","f":176,"v":5e-24},{"s":"96V","f":180,"v":3.5e-23},{"s":"96V","f":184,"v":4.2e-24},{"s":"96V","f":190,"v":4e-24},{"s":"96V","f":199,"v":3.3e-24},
{"s":"98V","f":0.49,"v":1.48e-20},{"s":"98V","f":0.745,"v":1e-20},{"s":"98V","f":1,"v":7.2e-21},{"s":"98V","f":1.63,"v":4.6e-21},{"s":"98V","f":2.42,"v":3.2e-21},{"s":"98V","f":3.24,"v":2.1e-21},{"s":"98V","f":3.94,"v":2e-21},{"s":"98V","f":5.04,"v":1.23e-21},{"s":"98V","f":6.43,"v":9.8e-22},{"s":"98V","f":7.83,"v":7.8e-22},{"s":"98V","f":9.52,"v":6.3e-22},{"s":"98V","f":11.6,"v":6.9e-22},{"s":"98V","f":14.1,"v":4.8e-22},{"s":"98V","f":17.1,"v":4e-22},{"s":"98V","f":20.8,"v":3.4e-22},{"s":"98V","f":23,"v":3.9e-22},{"s":"98V","f":25.4,"v":2.6e-22},{"s":"98V","f":28,"v":3e-22},{"s":"98V","f":30.9,"v":2.2e-22},{"s":"98V","f":34,"v":2.6e-22},{"s":"98V","f":37.5,"v":1.8e-22},{"s":"98V","f":41.4,"v":2.1e-22},{"s":"98V","f":45.7,"v":1.45e-22},{"s":"98V","f":50.4,"v":1.7e-22},{"s":"98V","f":55.6,"v":1.25e-22},{"s":"98V","f":59.5,"v":3.6e-22},{"s":"98V","f":62.5,"v":1.1e-22},{"s":"98V","f":68,"v":1.25e-22},{"s":"98V","f":74.5,"v":9e-23},{"s":"98V","f":82,"v":1.05e-22},{"s":"98V","f":90.6,"v":7.8e-23},{"s":"98V","f":100,"v":8.8e-23},{"s":"98V","f":110,"v":6.6e-23},{"s":"98V","f":118,"v":7.5e-23},{"s":"98V","f":122,"v":6.2e-23},{"s":"98V","f":126,"v":9.8e-22},{"s":"98V","f":130,"v":6e-23},{"s":"98V","f":140,"v":6.8e-23},{"s":"98V","f":150,"v":5.2e-23},{"s":"98V","f":160,"v":5.9e-23},{"s":"98V","f":170,"v":4.6e-23},{"s":"98V","f":180,"v":5.2e-23},{"s":"98V","f":190,"v":4.2e-23},{"s":"98V","f":199,"v":4e-23},
{"s":"100V","f":0.49,"v":2.75e-19},{"s":"100V","f":0.745,"v":1.8e-19},{"s":"100V","f":1,"v":1.4e-19},{"s":"100V","f":1.63,"v":1.07e-19},{"s":"100V","f":1.99,"v":7.8e-20},{"s":"100V","f":2.42,"v":5.2e-20},{"s":"100V","f":3.09,"v":4.9e-20},{"s":"100V","f":3.75,"v":3e-20},{"s":"100V","f":4.43,"v":3.8e-20},{"s":"100V","f":5.29,"v":2.8e-20},{"s":"100V","f":6.43,"v":3.4e-20},{"s":"100V","f":7.45,"v":2.4e-20},{"s":"100V","f":8.63,"v":1.9e-20},{"s":"100V","f":9.52,"v":2.4e-20},{"s":"100V","f":11,"v":1.48e-20},{"s":"100V","f":14.1,"v":1.3e-20},{"s":"100V","f":17.1,"v":1.05e-20},{"s":"100V","f":20.8,"v":9.3e-21},{"s":"100V","f":23,"v":1.1e-20},{"s":"100V","f":25.4,"v":8e-21},{"s":"100V","f":28,"v":9e-21},{"s":"100V","f":30.9,"v":6.3e-21},{"s":"100V","f":34,"v":7.5e-21},{"s":"100V","f":37.5,"v":5.5e-21},{"s":"100V","f":41.4,"v":6.5e-21},{"s":"100V","f":45.7,"v":4.7e-21},{"s":"100V","f":50.4,"v":5.5e-21},{"s":"100V","f":55.6,"v":4e-21},{"s":"100V","f":59.5,"v":9.3e-21},{"s":"100V","f":62.5,"v":3.6e-21},{"s":"100V","f":68,"v":4.2e-21},{"s":"100V","f":74.5,"v":2.9e-21},{"s":"100V","f":82,"v":3.4e-21},{"s":"100V","f":90.6,"v":2.4e-21},{"s":"100V","f":100,"v":2.8e-21},{"s":"100V","f":110,"v":1.9e-21},{"s":"100V","f":118,"v":2.2e-21},{"s":"100V","f":122,"v":1.7e-21},{"s":"100V","f":126,"v":7.1e-18},{"s":"100V","f":130,"v":1.6e-21},{"s":"100V","f":140,"v":1.8e-21},{"s":"100V","f":150,"v":1.3e-21},{"s":"100V","f":160,"v":1.5e-21},{"s":"100V","f":170,"v":1.1e-21},{"s":"100V","f":180,"v":1.25e-21},{"s":"100V","f":190,"v":9e-22},{"s":"100V","f":199,"v":7.8e-22},
{"s":"102V","f":0.49,"v":1.78e-18},{"s":"102V","f":0.745,"v":1.05e-18},{"s":"102V","f":1,"v":7.8e-19},{"s":"102V","f":1.48,"v":4.9e-19},{"s":"102V","f":1.99,"v":3.6e-19},{"s":"102V","f":2.94,"v":2.75e-19},{"s":"102V","f":3.75,"v":2e-19},{"s":"102V","f":4.57,"v":2.4e-19},{"s":"102V","f":5.83,"v":2.2e-19},{"s":"102V","f":7.24,"v":1.4e-19},{"s":"102V","f":8.63,"v":1.6e-19},{"s":"102V","f":10.5,"v":1.12e-19},{"s":"102V","f":12.8,"v":1.17e-19},{"s":"102V","f":15.5,"v":9.3e-20},{"s":"102V","f":18.9,"v":9.8e-20},{"s":"102V","f":20.8,"v":8.5e-20},{"s":"102V","f":23,"v":7e-20},{"s":"102V","f":25.4,"v":8e-20},{"s":"102V","f":28,"v":5.8e-20},{"s":"102V","f":30.9,"v":6.8e-20},{"s":"102V","f":34,"v":5e-20},{"s":"102V","f":37.5,"v":6e-20},{"s":"102V","f":41.4,"v":4.4e-20},{"s":"102V","f":45.7,"v":5.2e-20},{"s":"102V","f":50.4,"v":3.8e-20},{"s":"102V","f":55.6,"v":4.6e-20},{"s":"102V","f":59.5,"v":8.7e-20},{"s":"102V","f":62.5,"v":3.4e-20},{"s":"102V","f":68,"v":4e-20},{"s":"102V","f":74.5,"v":2.9e-20},{"s":"102V","f":82,"v":3.4e-20},{"s":"102V","f":90.6,"v":2.4e-20},{"s":"102V","f":100,"v":2.9e-20},{"s":"102V","f":110,"v":1.9e-20},{"s":"102V","f":118,"v":2.3e-20},{"s":"102V","f":122,"v":1.6e-20},{"s":"102V","f":126,"v":2.5e-20},{"s":"102V","f":130,"v":1.9e-20},{"s":"102V","f":140,"v":1.3e-20},{"s":"102V","f":150,"v":1.6e-20},{"s":"102V","f":160,"v":1.1e-20},{"s":"102V","f":170,"v":1.4e-20},{"s":"102V","f":180,"v":8.5e-21},{"s":"102V","f":190,"v":1e-20},{"s":"102V","f":199,"v":6.5e-21},
{"s":"104V","f":0.49,"v":4.4e-17},{"s":"104V","f":0.745,"v":2.3e-17},{"s":"104V","f":1,"v":1.35e-17},{"s":"104V","f":1.48,"v":5.1e-18},{"s":"104V","f":1.99,"v":4.1e-18},{"s":"104V","f":2.42,"v":3.7e-18},{"s":"104V","f":3.57,"v":2.1e-18},{"s":"104V","f":5.04,"v":2.6e-18},{"s":"104V","f":6.43,"v":2.1e-18},{"s":"104V","f":7.24,"v":1.45e-18},{"s":"104V","f":8.63,"v":1.8e-18},{"s":"104V","f":10.5,"v":8.3e-19},{"s":"104V","f":12.2,"v":1.05e-18},{"s":"104V","f":14.1,"v":7.4e-19},{"s":"104V","f":17.1,"v":8.3e-19},{"s":"104V","f":20.8,"v":5.6e-19},{"s":"104V","f":23,"v":7e-19},{"s":"104V","f":25.4,"v":5e-19},{"s":"104V","f":28,"v":6e-19},{"s":"104V","f":30.9,"v":4e-19},{"s":"104V","f":34,"v":5.5e-19},{"s":"104V","f":37.5,"v":3.6e-19},{"s":"104V","f":41.4,"v":4.6e-19},{"s":"104V","f":45.7,"v":3e-19},{"s":"104V","f":50.4,"v":3.8e-19},{"s":"104V","f":54.5,"v":1.35e-18},{"s":"104V","f":56,"v":2.9e-19},{"s":"104V","f":59.5,"v":1.05e-18},{"s":"104V","f":62.5,"v":2.4e-19},{"s":"104V","f":68,"v":3e-19},{"s":"104V","f":74.5,"v":1.9e-19},{"s":"104V","f":82,"v":2.5e-19},{"s":"104V","f":90.6,"v":1.5e-19},{"s":"104V","f":100,"v":2e-19},{"s":"104V","f":110,"v":1.2e-19},{"s":"104V","f":118,"v":1.6e-19},{"s":"104V","f":122,"v":1e-19},{"s":"104V","f":126,"v":2e-17},{"s":"104V","f":130,"v":1.2e-19},{"s":"104V","f":140,"v":7.5e-20},{"s":"104V","f":150,"v":1.1e-19},{"s":"104V","f":160,"v":2.6e-19},{"s":"104V","f":166,"v":6.5e-20},{"s":"104V","f":172,"v":9e-20},{"s":"104V","f":180,"v":4.1e-19},{"s":"104V","f":186,"v":5.5e-20},{"s":"104V","f":192,"v":7e-20},{"s":"104V","f":199,"v":4.4e-20}
],
"R2":[
{"s":"90V","f":100,"v":3e-24},{"s":"90V","f":900,"v":6e-24},{"s":"90V","f":1700,"v":2e-24},{"s":"90V","f":2500,"v":4e-24},{"s":"90V","f":3300,"v":1.5e-24},{"s":"90V","f":4100,"v":5e-24},{"s":"90V","f":4900,"v":2.5e-24},{"s":"90V","f":5700,"v":6e-24},{"s":"90V","f":6500,"v":1.2e-24},{"s":"90V","f":7300,"v":4.5e-24},{"s":"90V","f":8100,"v":2e-24},{"s":"90V","f":8900,"v":7e-24},{"s":"90V","f":9700,"v":3e-24},{"s":"90V","f":10500,"v":5e-24},{"s":"90V","f":11300,"v":1.5e-24},{"s":"90V","f":12100,"v":6e-24},{"s":"90V","f":12900,"v":1e-26},{"s":"90V","f":13700,"v":5e-24},{"s":"90V","f":14500,"v":8e-24},{"s":"90V","f":15300,"v":3e-24},{"s":"90V","f":16100,"v":1e-23},{"s":"90V","f":16900,"v":4e-24},{"s":"90V","f":17700,"v":1.2e-23},{"s":"90V","f":18500,"v":6e-24},{"s":"90V","f":19300,"v":5e-25},{"s":"90V","f":20100,"v":1.5e-23},{"s":"90V","f":20900,"v":8e-24},{"s":"90V","f":21700,"v":2e-23},{"s":"90V","f":22500,"v":1e-23},{"s":"90V","f":23300,"v":2.5e-23},{"s":"90V","f":24100,"v":3e-23},
{"s":"92V","f":100,"v":5e-24},{"s":"92V","f":900,"v":3e-24},{"s":"92V","f":1700,"v":7e-24},{"s":"92V","f":2500,"v":3.5e-24},{"s":"92V","f":3300,"v":6e-24},{"s":"92V","f":4100,"v":1.5e-24},{"s":"92V","f":4900,"v":4e-24},{"s":"92V","f":5700,"v":8e-25},{"s":"92V","f":6500,"v":5e-24},{"s":"92V","f":7300,"v":2.5e-24},{"s":"92V","f":8100,"v":7e-24},{"s":"92V","f":8900,"v":3e-24},{"s":"92V","f":9700,"v":6e-24},{"s":"92V","f":10500,"v":2e-24},{"s":"92V","f":11300,"v":8e-24},{"s":"92V","f":12100,"v":3.5e-24},{"s":"92V","f":12900,"v":1e-23},{"s":"92V","f":13700,"v":4e-24},{"s":"92V","f":14500,"v":9e-24},{"s":"92V","f":15300,"v":3e-24},{"s":"92V","f":16100,"v":1.2e-23},{"s":"92V","f":16900,"v":5e-24},{"s":"92V","f":17700,"v":1.5e-23},{"s":"92V","f":18500,"v":6e-24},{"s":"92V","f":19300,"v":7e-23},{"s":"92V","f":20100,"v":8e-24},{"s":"92V","f":20900,"v":2e-23},{"s":"92V","f":21700,"v":1e-23},{"s":"92V","f":22500,"v":2.5e-23},{"s":"92V","f":23300,"v":1.2e-23},{"s":"92V","f":24100,"v":3.5e-23},
{"s":"94V","f":100,"v":4e-24},{"s":"94V","f":900,"v":2e-24},{"s":"94V","f":1700,"v":6e-24},{"s":"94V","f":2500,"v":1e-26},{"s":"94V","f":3300,"v":3e-24},{"s":"94V","f":4100,"v":5e-24},{"s":"94V","f":4900,"v":2e-26},{"s":"94V","f":5700,"v":4e-24},{"s":"94V","f":6500,"v":7e-24},{"s":"94V","f":7300,"v":2e-24},{"s":"94V","f":8100,"v":6e-24},{"s":"94V","f":8900,"v":3e-24},{"s":"94V","f":9700,"v":8e-24},{"s":"94V","f":10500,"v":2.5e-24},{"s":"94V","f":11300,"v":6e-24},{"s":"94V","f":12100,"v":1.5e-24},{"s":"94V","f":12900,"v":7e-24},{"s":"94V","f":13700,"v":3e-24},{"s":"94V","f":14500,"v":9e-24},{"s":"94V","f":15300,"v":4e-24},{"s":"94V","f":16100,"v":1e-23},{"s":"94V","f":16900,"v":2e-24},{"s":"94V","f":17700,"v":1.2e-23},{"s":"94V","f":18500,"v":5e-24},{"s":"94V","f":19300,"v":1.5e-23},{"s":"94V","f":20100,"v":6e-24},{"s":"94V","f":20900,"v":2e-25},{"s":"94V","f":21700,"v":1.8e-23},{"s":"94V","f":22500,"v":8e-24},{"s":"94V","f":23300,"v":2e-23},{"s":"94V","f":24100,"v":3e-23},
{"s":"96V","f":100,"v":6e-24},{"s":"96V","f":900,"v":2.5e-24},{"s":"96V","f":1700,"v":5e-24},{"s":"96V","f":2500,"v":4e-24},{"s":"96V","f":3300,"v":1e-26},{"s":"96V","f":4100,"v":7e-24},{"s":"96V","f":4900,"v":2e-24},{"s":"96V","f":5700,"v":6e-24},{"s":"96V","f":6500,"v":3e-24},{"s":"96V","f":7300,"v":8e-24},{"s":"96V","f":8100,"v":1.5e-24},{"s":"96V","f":8900,"v":6e-24},{"s":"96V","f":9700,"v":1e-26},{"s":"96V","f":10500,"v":7e-24},{"s":"96V","f":11300,"v":3e-24},{"s":"96V","f":12100,"v":9e-24},{"s":"96V","f":12900,"v":4e-24},{"s":"96V","f":13700,"v":1.1e-23},{"s":"96V","f":14500,"v":3e-24},{"s":"96V","f":15300,"v":1.2e-23},{"s":"96V","f":16100,"v":6e-24},{"s":"96V","f":16900,"v":1.6e-23},{"s":"96V","f":17700,"v":4e-24},{"s":"96V","f":18500,"v":2e-23},{"s":"96V","f":19300,"v":7e-24},{"s":"96V","f":20100,"v":2.5e-23},{"s":"96V","f":20900,"v":1e-23},{"s":"96V","f":21700,"v":3e-23},{"s":"96V","f":22500,"v":1.2e-23},{"s":"96V","f":23300,"v":3e-25},{"s":"96V","f":24100,"v":2.5e-23},
{"s":"98V","f":100,"v":8e-24},{"s":"98V","f":900,"v":1e-26},{"s":"98V","f":1700,"v":5e-24},{"s":"98V","f":2500,"v":9e-24},{"s":"98V","f":3300,"v":3e-24},{"s":"98V","f":4100,"v":7e-24},{"s":"98V","f":4900,"v":2e-24},{"s":"98V","f":5700,"v":8e-24},{"s":"98V","f":6500,"v":3.5e-24},{"s":"98V","f":7300,"v":9e-24},{"s":"98V","f":8100,"v":2.5e-24},{"s":"98V","f":8900,"v":8e-24},{"s":"98V","f":9700,"v":4e-24},{"s":"98V","f":10500,"v":1e-23},{"s":"98V","f":11300,"v":3e-24},{"s":"98V","f":12100,"v":9e-24},{"s":"98V","f":12900,"v":4e-24},{"s":"98V","f":13700,"v":1.1e-23},{"s":"98V","f":14500,"v":5e-24},{"s":"98V","f":15300,"v":1.2e-23},{"s":"98V","f":16100,"v":1e-26},{"s":"98V","f":16900,"v":1.4e-23},{"s":"98V","f":17700,"v":7e-24},{"s":"98V","f":18500,"v":1.8e-23},{"s":"98V","f":19300,"v":8e-24},{"s":"98V","f":20100,"v":2.2e-23},{"s":"98V","f":20900,"v":1e-23},{"s":"98V","f":21700,"v":2.8e-23},{"s":"98V","f":22500,"v":1.2e-23},{"s":"98V","f":23300,"v":3.5e-23},{"s":"98V","f":24100,"v":4e-23},
{"s":"100V","f":100,"v":2e-23},{"s":"100V","f":900,"v":1.2e-23},{"s":"100V","f":1700,"v":1.6e-23},{"s":"100V","f":2500,"v":1e-23},{"s":"100V","f":3300,"v":1.8e-23},{"s":"100V","f":4100,"v":8e-24},{"s":"100V","f":4900,"v":2e-23},{"s":"100V","f":5700,"v":6e-24},{"s":"100V","f":6500,"v":1.7e-23},{"s":"100V","f":7300,"v":1.1e-23},{"s":"100V","f":8100,"v":2.2e-23},{"s":"100V","f":8900,"v":1.3e-23},{"s":"100V","f":9700,"v":2e-23},{"s":"100V","f":10500,"v":1e-23},{"s":"100V","f":11300,"v":2.4e-23},{"s":"100V","f":12100,"v":1.4e-23},{"s":"100V","f":12900,"v":2.6e-23},{"s":"100V","f":13700,"v":1.2e-23},{"s":"100V","f":14500,"v":2.8e-23},{"s":"100V","f":15300,"v":5e-25},{"s":"100V","f":16100,"v":2.5e-23},{"s":"100V","f":16900,"v":1.5e-23},{"s":"100V","f":17700,"v":3.2e-23},{"s":"100V","f":18500,"v":1.8e-23},{"s":"100V","f":19300,"v":3.5e-23},{"s":"100V","f":20100,"v":2e-23},{"s":"100V","f":20900,"v":4e-23},{"s":"100V","f":21700,"v":2.2e-23},{"s":"100V","f":22500,"v":4.5e-23},{"s":"100V","f":23300,"v":2.5e-23},{"s":"100V","f":24100,"v":5e-23},
{"s":"102V","f":100,"v":5.2e-22},{"s":"102V","f":900,"v":5.8e-22},{"s":"102V","f":1700,"v":5.5e-22},{"s":"102V","f":2500,"v":6e-22},{"s":"102V","f":3300,"v":5.4e-22},{"s":"102V","f":4100,"v":5.9e-22},{"s":"102V","f":4900,"v":5.6e-22},{"s":"102V","f":5700,"v":6.2e-22},{"s":"102V","f":6500,"v":5.7e-22},{"s":"102V","f":7300,"v":5.3e-22},{"s":"102V","f":8100,"v":6e-22},{"s":"102V","f":8900,"v":5.5e-22},{"s":"102V","f":9700,"v":6.1e-22},{"s":"102V","f":10500,"v":5.8e-22},{"s":"102V","f":11300,"v":5.4e-22},{"s":"102V","f":12100,"v":5.9e-22},{"s":"102V","f":12900,"v":5.6e-22},{"s":"102V","f":13700,"v":5.3e-22},{"s":"102V","f":14500,"v":5.8e-22},{"s":"102V","f":15300,"v":5.5e-22},{"s":"102V","f":16100,"v":6e-22},{"s":"102V","f":16900,"v":5.2e-22},{"s":"102V","f":17700,"v":5.7e-22},{"s":"102V","f":18500,"v":5.4e-22},{"s":"102V","f":19300,"v":5.9e-22},{"s":"102V","f":20100,"v":5.1e-22},{"s":"102V","f":20900,"v":5.6e-22},{"s":"102V","f":21700,"v":5.3e-22},{"s":"102V","f":22500,"v":5.8e-22},{"s":"102V","f":23300,"v":5.4e-22},{"s":"102V","f":24100,"v":5.6e-22},
{"s":"104V","f":100,"v":6e-21},{"s":"104V","f":900,"v":5.5e-21},{"s":"104V","f":1700,"v":6.3e-21},{"s":"104V","f":2500,"v":5.7e-21},{"s":"104V","f":3300,"v":6.1e-21},{"s":"104V","f":4100,"v":5.4e-21},{"s":"104V","f":4900,"v":6e-21},{"s":"104V","f":5700,"v":5.8e-21},{"s":"104V","f":6500,"v":6.4e-21},{"s":"104V","f":7300,"v":5.6e-21},{"s":"104V","f":8100,"v":6e-21},{"s":"104V","f":8900,"v":5.3e-21},{"s":"104V","f":9700,"v":5.9e-21},{"s":"104V","f":10500,"v":6.2e-21},{"s":"104V","f":11300,"v":5.6e-21},{"s":"104V","f":12100,"v":5.9e-21},{"s":"104V","f":12900,"v":5.5e-21},{"s":"104V","f":13700,"v":6.1e-21},{"s":"104V","f":14500,"v":5.7e-21},{"s":"104V","f":15300,"v":5.4e-21},{"s":"104V","f":16100,"v":6e-21},{"s":"104V","f":16900,"v":5.6e-21},{"s":"104V","f":17700,"v":5.8e-21},{"s":"104V","f":18500,"v":5.3e-21},{"s":"104V","f":19300,"v":5.7e-21},{"s":"104V","f":20100,"v":5.5e-21},{"s":"104V","f":20900,"v":5.9e-21},{"s":"104V","f":21700,"v":5.2e-21},{"s":"104V","f":22500,"v":5.6e-21},{"s":"104V","f":23300,"v":5.4e-21},{"s":"104V","f":24100,"v":5.7e-21}
]
},
"spacing":72,
"hconcat":[
{
"width":426,"height":345,
"view":{"stroke":"black","strokeWidth":2},
"title":{"text":" ","fontSize":2,"offset":12},
"layer":[
{"data":{"name":"L"},
"mark":{"type":"line","strokeWidth":1.2,"clip":true,"strokeJoin":"round"},
"encoding":{
"x":{"field":"f","type":"quantitative","scale":{"type":"log","domain":[1.89,21100],"nice":false},
"axis":{"values":[2,3,4,5,6,7,8,9,10,20,30,40,50,60,70,80,90,100,200,300,400,500,600,700,800,900,1000,2000,3000,4000,5000,6000,7000,8000,9000,10000,20000],
"labelExpr":"abs(log(datum.value)/LN10 - round(log(datum.value)/LN10)) < 0.001 ? format(datum.value, 'd') : ''",
"tickSize":{"condition":{"test":"abs(log(datum.value)/LN10 - round(log(datum.value)/LN10)) < 0.001","value":-8},"value":-4},
"tickWidth":1.2,"domain":false,"labelFontSize":18,"labelFontWeight":"bold","labelPadding":9,
"title":"Frequency (Hz)","titleFontSize":24,"titleFontWeight":"bold","titlePadding":1}},
"y":{"field":"v","type":"quantitative","scale":{"type":"log","domain":[1e-25,8.3e-16],"nice":false},
"axis":{"values":[1e-25,2e-25,3e-25,4e-25,5e-25,6e-25,7e-25,8e-25,9e-25,1e-24,2e-24,3e-24,4e-24,5e-24,6e-24,7e-24,8e-24,9e-24,1e-23,2e-23,3e-23,4e-23,5e-23,6e-23,7e-23,8e-23,9e-23,1e-22,2e-22,3e-22,4e-22,5e-22,6e-22,7e-22,8e-22,9e-22,1e-21,2e-21,3e-21,4e-21,5e-21,6e-21,7e-21,8e-21,9e-21,1e-20,2e-20,3e-20,4e-20,5e-20,6e-20,7e-20,8e-20,9e-20,1e-19,2e-19,3e-19,4e-19,5e-19,6e-19,7e-19,8e-19,9e-19,1e-18,2e-18,3e-18,4e-18,5e-18,6e-18,7e-18,8e-18,9e-18,1e-17,2e-17,3e-17,4e-17,5e-17,6e-17,7e-17,8e-17,9e-17,1e-16,2e-16,3e-16,4e-16,5e-16,6e-16,7e-16,8e-16],
"labelExpr":"abs(log(datum.value)/LN10 - round(log(datum.value)/LN10)) < 0.001 ? '10⁻' + substring('⁰¹²³⁴⁵⁶⁷⁸⁹', floor(-round(log(datum.value)/LN10)/10), floor(-round(log(datum.value)/LN10)/10) + 1) + substring('⁰¹²³⁴⁵⁶⁷⁸⁹', (-round(log(datum.value)/LN10)) % 10, (-round(log(datum.value)/LN10)) % 10 + 1) : ''",
"tickSize":{"condition":{"test":"abs(log(datum.value)/LN10 - round(log(datum.value)/LN10)) < 0.001","value":-8},"value":-4},
"tickWidth":1.2,"domain":false,"labelFont":"Noto Sans","labelFontSize":18,"labelFontWeight":"bold","labelPadding":1,
"title":"SPD (A²/Hz)","titleFontSize":24,"titleFontWeight":"normal","titlePadding":5}},
"color":{"field":"s","type":"nominal","scale":{"domain":["102V","101V","100V","99V","98V","97V","96V","95V","94V","93V","92V","91V"],"range":["#000000","#ff0000","#00ff00","#0000ff","#00ffff","#ff00ff","#ffff00","#808000","#000080","#800080","#008000","#800000"]},"legend":null},
"detail":{"field":"g","type":"nominal"}
}},
{"data":{"values":[{}]},"mark":{"type":"rule","strokeWidth":3.5,"color":"black"},"encoding":{"x":{"datum":60},"y":{"datum":1.35e-24},"y2":{"datum":1.58e-17}}},
{"data":{"values":[{}]},"mark":{"type":"point","shape":"M0,-1L0.5,0.6L-0.5,0.6Z","size":190,"filled":true,"color":"black","opacity":1},"encoding":{"x":{"datum":60},"y":{"datum":1.58e-17}}},
{"data":{"values":[{}]},"mark":{"type":"text","text":"102V -- 1V per step","fontSize":24,"font":"Liberation Sans","align":"center","baseline":"middle","color":"black"},"encoding":{"x":{"datum":340},"y":{"datum":7.7e-17}}},
{"data":{"values":[{}]},"mark":{"type":"text","text":"91V","fontSize":24,"font":"Liberation Sans","align":"center","baseline":"middle","color":"black"},"encoding":{"x":{"datum":62},"y":{"datum":5e-25}}},
{"data":{"values":[{}]},"mark":{"type":"text","text":"Multiplication","fontSize":24,"fontWeight":"bold","font":"Liberation Sans","align":"center","baseline":"middle","color":"black"},"encoding":{"x":{"datum":2860},"y":{"datum":9.1e-19}}},
{"data":{"values":[{}]},"mark":{"type":"text","text":"1/f","fontSize":24,"fontWeight":"bold","font":"Liberation Sans","align":"center","baseline":"middle","color":"black"},"encoding":{"x":{"datum":5.5},"y":{"datum":1.17e-23}}}
]
},
{
"bounds":"flush",
"spacing":6,
"hconcat":[
{
"width":223,"height":345,
"layer":[
{"data":{"name":"R1"},
"mark":{"type":"line","strokeWidth":2.5,"clip":true,"strokeJoin":"round"},
"encoding":{
"x":{"field":"f","type":"quantitative","scale":{"type":"log","domain":[0.312,219],"nice":false},
"axis":{"values":[0.4,0.5,0.6,0.7,0.8,0.9,1,2,3,4,5,6,7,8,9,10,20,30,40,50,60,70,80,90,100,200],
"labelExpr":"abs(log(datum.value)/LN10 - round(log(datum.value)/LN10)) < 0.001 ? format(datum.value, 'd') : ''",
"tickSize":{"condition":{"test":"abs(log(datum.value)/LN10 - round(log(datum.value)/LN10)) < 0.001","value":-9},"value":-5},
"tickWidth":1.5,"domain":true,"domainWidth":2.5,"labelFontSize":17,"labelFontWeight":"bold","labelPadding":10,
"title":"Frequency (Hz)","titleFontSize":23,"titleFontWeight":"bold","titleX":215,"titleAlign":"center","titlePadding":2}},
"y":{"field":"v","type":"quantitative","scale":{"type":"log","domain":[2.1e-26,9.8e-16],"nice":false},
"axis":{"values":[3e-26,4e-26,5e-26,6e-26,7e-26,8e-26,9e-26,1e-25,2e-25,3e-25,4e-25,5e-25,6e-25,7e-25,8e-25,9e-25,1e-24,2e-24,3e-24,4e-24,5e-24,6e-24,7e-24,8e-24,9e-24,1e-23,2e-23,3e-23,4e-23,5e-23,6e-23,7e-23,8e-23,9e-23,1e-22,2e-22,3e-22,4e-22,5e-22,6e-22,7e-22,8e-22,9e-22,1e-21,2e-21,3e-21,4e-21,5e-21,6e-21,7e-21,8e-21,9e-21,1e-20,2e-20,3e-20,4e-20,5e-20,6e-20,7e-20,8e-20,9e-20,1e-19,2e-19,3e-19,4e-19,5e-19,6e-19,7e-19,8e-19,9e-19,1e-18,2e-18,3e-18,4e-18,5e-18,6e-18,7e-18,8e-18,9e-18,1e-17,2e-17,3e-17,4e-17,5e-17,6e-17,7e-17,8e-17,9e-17,1e-16,2e-16,3e-16,4e-16,5e-16,6e-16,7e-16,8e-16,9e-16],
"labelExpr":"abs(log(datum.value)/LN10 - round(log(datum.value)/LN10)) < 0.001 ? '10⁻' + substring('⁰¹²³⁴⁵⁶⁷⁸⁹', floor(-round(log(datum.value)/LN10)/10), floor(-round(log(datum.value)/LN10)/10) + 1) + substring('⁰¹²³⁴⁵⁶⁷⁸⁹', (-round(log(datum.value)/LN10)) % 10, (-round(log(datum.value)/LN10)) % 10 + 1) : ''",
"tickSize":{"condition":{"test":"abs(log(datum.value)/LN10 - round(log(datum.value)/LN10)) < 0.001","value":-9},"value":-5},
"tickWidth":1.5,"domain":true,"domainWidth":2.5,"labelFont":"Noto Sans","labelFontSize":18,"labelFontWeight":"bold","labelPadding":2,
"title":"SPD (A²/Hz)","titleFontSize":23,"titleFontWeight":"bold","titlePadding":3}},
"color":{"field":"s","type":"nominal","scale":{"domain":["90V","92V","94V","96V","98V","100V","102V","104V"],"range":["#000000","#ff0000","#00ff00","#0000ff","#00ffff","#ff00ff","#808080","#808000"]},"legend":null}
}},
{"data":{"values":[{}]},"mark":{"type":"rule","strokeWidth":2.5,"color":"black"},"encoding":{"y":{"datum":9.8e-16}}},
{"data":{"values":[{}]},"mark":{"type":"rule","strokeWidth":1.6,"color":"black"},"encoding":{"x":{"datum":6.4},"y":{"datum":1e-24},"y2":{"datum":7.6e-18}}},
{"data":{"values":[{}]},"mark":{"type":"point","shape":"M0,-1L0.5,0.6L-0.5,0.6Z","size":100,"filled":true,"color":"black","opacity":1},"encoding":{"x":{"datum":6.4},"y":{"datum":7.6e-18}}},
{"data":{"values":[{}]},"mark":{"type":"text","text":"104 -- 2V per step","fontSize":23,"fontWeight":"bold","font":"Liberation Sans","align":"center","baseline":"middle","color":"black"},"encoding":{"x":{"datum":55},"y":{"datum":2.9e-17}}},
{"data":{"values":[{}]},"mark":{"type":"text","text":"90","fontSize":23,"fontWeight":"bold","font":"Liberation Sans","align":"center","baseline":"middle","color":"black"},"encoding":{"x":{"datum":5.9},"y":{"datum":4.6e-25}}},
{"data":{"values":[{}]},"mark":{"type":"text","text":"1/f","fontSize":22,"fontWeight":"bold","font":"Liberation Sans","align":"center","baseline":"middle","color":"black"},"encoding":{"x":{"datum":0.73},"y":{"datum":1.38e-23}}},
{"data":{"values":[{}]},"mark":{"type":"text","text":"//","fontSize":17,"font":"Liberation Sans","align":"center","baseline":"middle","color":"black","dx":3},"encoding":{"x":{"datum":219},"y":{"datum":9.8e-16}}},
{"data":{"values":[{}]},"mark":{"type":"text","text":"//","fontSize":17,"font":"Liberation Sans","align":"center","baseline":"middle","color":"black","dx":3},"encoding":{"x":{"datum":219},"y":{"datum":2.1e-26}}}
]
},
{
"width":198,"height":345,
"layer":[
{"data":{"name":"R2"},
"mark":{"type":"line","strokeWidth":2.5,"clip":true,"strokeJoin":"round"},
"encoding":{
"x":{"field":"f","type":"quantitative","scale":{"type":"linear","domain":[-625,24125],"nice":false,"zero":false},
"axis":{"values":[2000,4000,6000,8000,10000],
"labelExpr":"datum.value == 10000 ? '10000' : ''",
"tickSize":{"condition":{"test":"datum.value == 10000","value":-9},"value":-5},
"tickWidth":1.5,"domain":true,"domainWidth":2.5,"labelFontSize":17,"labelFontWeight":"bold","labelPadding":10,"title":null}},
"y":{"field":"v","type":"quantitative","scale":{"type":"log","domain":[2.1e-26,9.8e-16],"nice":false},"axis":null},
"color":{"field":"s","type":"nominal","scale":{"domain":["90V","92V","94V","96V","98V","100V","102V","104V"],"range":["#000000","#ff0000","#00ff00","#0000ff","#00ffff","#ff00ff","#808080","#808000"]},"legend":null}
}},
{"data":{"values":[{}]},"mark":{"type":"rule","strokeWidth":2.5,"color":"black"},"encoding":{"y":{"datum":9.8e-16}}},
{"data":{"values":[{}]},"mark":{"type":"text","text":"Multiplication","fontSize":23,"fontWeight":"bold","font":"Liberation Sans","align":"center","baseline":"middle","color":"black"},"encoding":{"x":{"datum":14000},"y":{"datum":8.7e-20}}}
]
}
]
}
]
}
